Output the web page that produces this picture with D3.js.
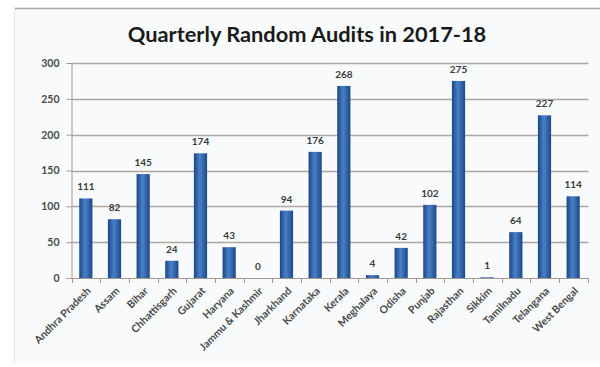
<!DOCTYPE html>
<html>
<head>
<meta charset="utf-8">
<script src="https://cdn.jsdelivr.net/npm/d3@7"></script>
<style>
  html, body { margin: 0; padding: 0; background: #fff; }
  svg { display: block; }
</style>
</head>
<body>
<svg id="chart" width="600" height="367"></svg>
<script>
// Quarterly random audits by state, 2017-18
const states = ["Andhra Pradesh", "Assam", "Bihar", "Chhattisgarh", "Gujarat", "Haryana",
  "Jammu & Kashmir", "Jharkhand", "Karnataka", "Kerala", "Meghalaya", "Odisha", "Punjab",
  "Rajasthan", "Sikkim", "Tamilnadu", "Telangana", "West Bengal"];
const audits = [111, 82, 145, 24, 174, 43, 0, 94, 176, 268, 4, 42, 102, 275, 1, 64, 227, 114];
const yTicks = [0, 50, 100, 150, 200, 250, 300];
const titleText = "Quarterly Random Audits in 2017-18";

const svg = d3.select("#chart");
const W = 600, H = 367;
const font = "Lato, 'Open Sans', sans-serif";

// chart frame
svg.append("rect").attr("x", 14).attr("y", 8).attr("width", W - 14).attr("height", H - 12)
  .attr("fill", "#f8fafc");
svg.append("line").attr("x1", 14).attr("x2", W).attr("y1", 8.5).attr("y2", 8.5)
  .attr("stroke", "#a8a8a8").attr("stroke-width", 1.5);
svg.append("line").attr("x1", 14.5).attr("x2", 14.5).attr("y1", 8).attr("y2", H - 4)
  .attr("stroke", "#e2e6ea").attr("stroke-width", 1);

// bar gradient (cylinder look)
const defs = svg.append("defs");
const grad = defs.append("linearGradient").attr("id", "barGrad")
  .attr("x1", "0%").attr("x2", "100%").attr("y1", "0%").attr("y2", "0%");
grad.append("stop").attr("offset", "0%").attr("stop-color", "#1a4686");
grad.append("stop").attr("offset", "45%").attr("stop-color", "#4a80c8");
grad.append("stop").attr("offset", "100%").attr("stop-color", "#1c4888");

const plot = { left: 71.5, right: 587.5, top: 63, bottom: 278 };

const x = d3.scaleBand().domain(states).range([plot.left, plot.right]).paddingInner(0.54).paddingOuter(0.27);
const y = d3.scaleLinear().domain([0, 300]).range([plot.bottom, plot.top]);

// title
svg.append("text").attr("x", 307).attr("y", 42).attr("text-anchor", "middle")
  .attr("font-family", font).attr("font-weight", "bold")
  .attr("font-size", 21.8).attr("fill", "#1a1a1a").text(titleText);

// gridlines
svg.append("g").selectAll("line").data(yTicks.filter(d => d > 0)).join("line")
  .attr("x1", plot.left).attr("x2", plot.right + 1)
  .attr("y1", d => Math.round(y(d)) + 0.5).attr("y2", d => Math.round(y(d)) + 0.5)
  .attr("stroke", "#b0a79e").attr("stroke-width", 1.3);

// y axis
const yAxis = svg.append("g").attr("transform", `translate(${plot.left},0)`)
  .call(d3.axisLeft(y).tickValues(yTicks).tickSize(5).tickPadding(7));
yAxis.select(".domain").attr("stroke", "#a09890");
yAxis.selectAll(".tick line").attr("stroke", "#a09890");
yAxis.selectAll(".tick text").attr("font-family", font)
  .attr("font-weight", "bold").attr("font-size", 10.5).attr("fill", "#4a4a4a");

// x axis: ticks between categories
const xAxisG = svg.append("g").attr("transform", `translate(0,${plot.bottom})`);
xAxisG.append("line").attr("x1", plot.left).attr("x2", plot.right + 1).attr("y1", 0.5).attr("y2", 0.5)
  .attr("stroke", "#a09890");
const bounds = states.map((s, i) => plot.left + i * x.step()).concat([plot.right]);
xAxisG.selectAll("line.tk").data(bounds).join("line").attr("class", "tk")
  .attr("x1", d => Math.round(d) + 0.5).attr("x2", d => Math.round(d) + 0.5)
  .attr("y1", 0).attr("y2", 5).attr("stroke", "#a09890");

// bars
svg.append("g").selectAll("rect").data(audits).join("rect")
  .attr("x", (d, i) => x(states[i]))
  .attr("width", x.bandwidth())
  .attr("y", d => y(d))
  .attr("height", d => plot.bottom - y(d))
  .attr("fill", "url(#barGrad)");

// value labels
svg.append("g").selectAll("text").data(audits).join("text")
  .attr("x", (d, i) => x(states[i]) + x.bandwidth() / 2)
  .attr("y", d => y(d) - 8)
  .attr("text-anchor", "middle")
  .attr("font-family", font).attr("font-weight", "bold")
  .attr("font-size", 10).attr("fill", "#3a3a3a")
  .text(d => d);

// category labels, rotated
svg.append("g").selectAll("text").data(states).join("text")
  .attr("transform", d => `translate(${x(d) + x.bandwidth() / 2 + 3},${plot.bottom + 11}) rotate(-45)`)
  .attr("text-anchor", "end").attr("dy", "0.35em")
  .attr("font-family", font).attr("font-weight", "bold")
  .attr("font-size", 10.5).attr("fill", "#4a4a4a")
  .text(d => d);
</script>
</body>
</html>
